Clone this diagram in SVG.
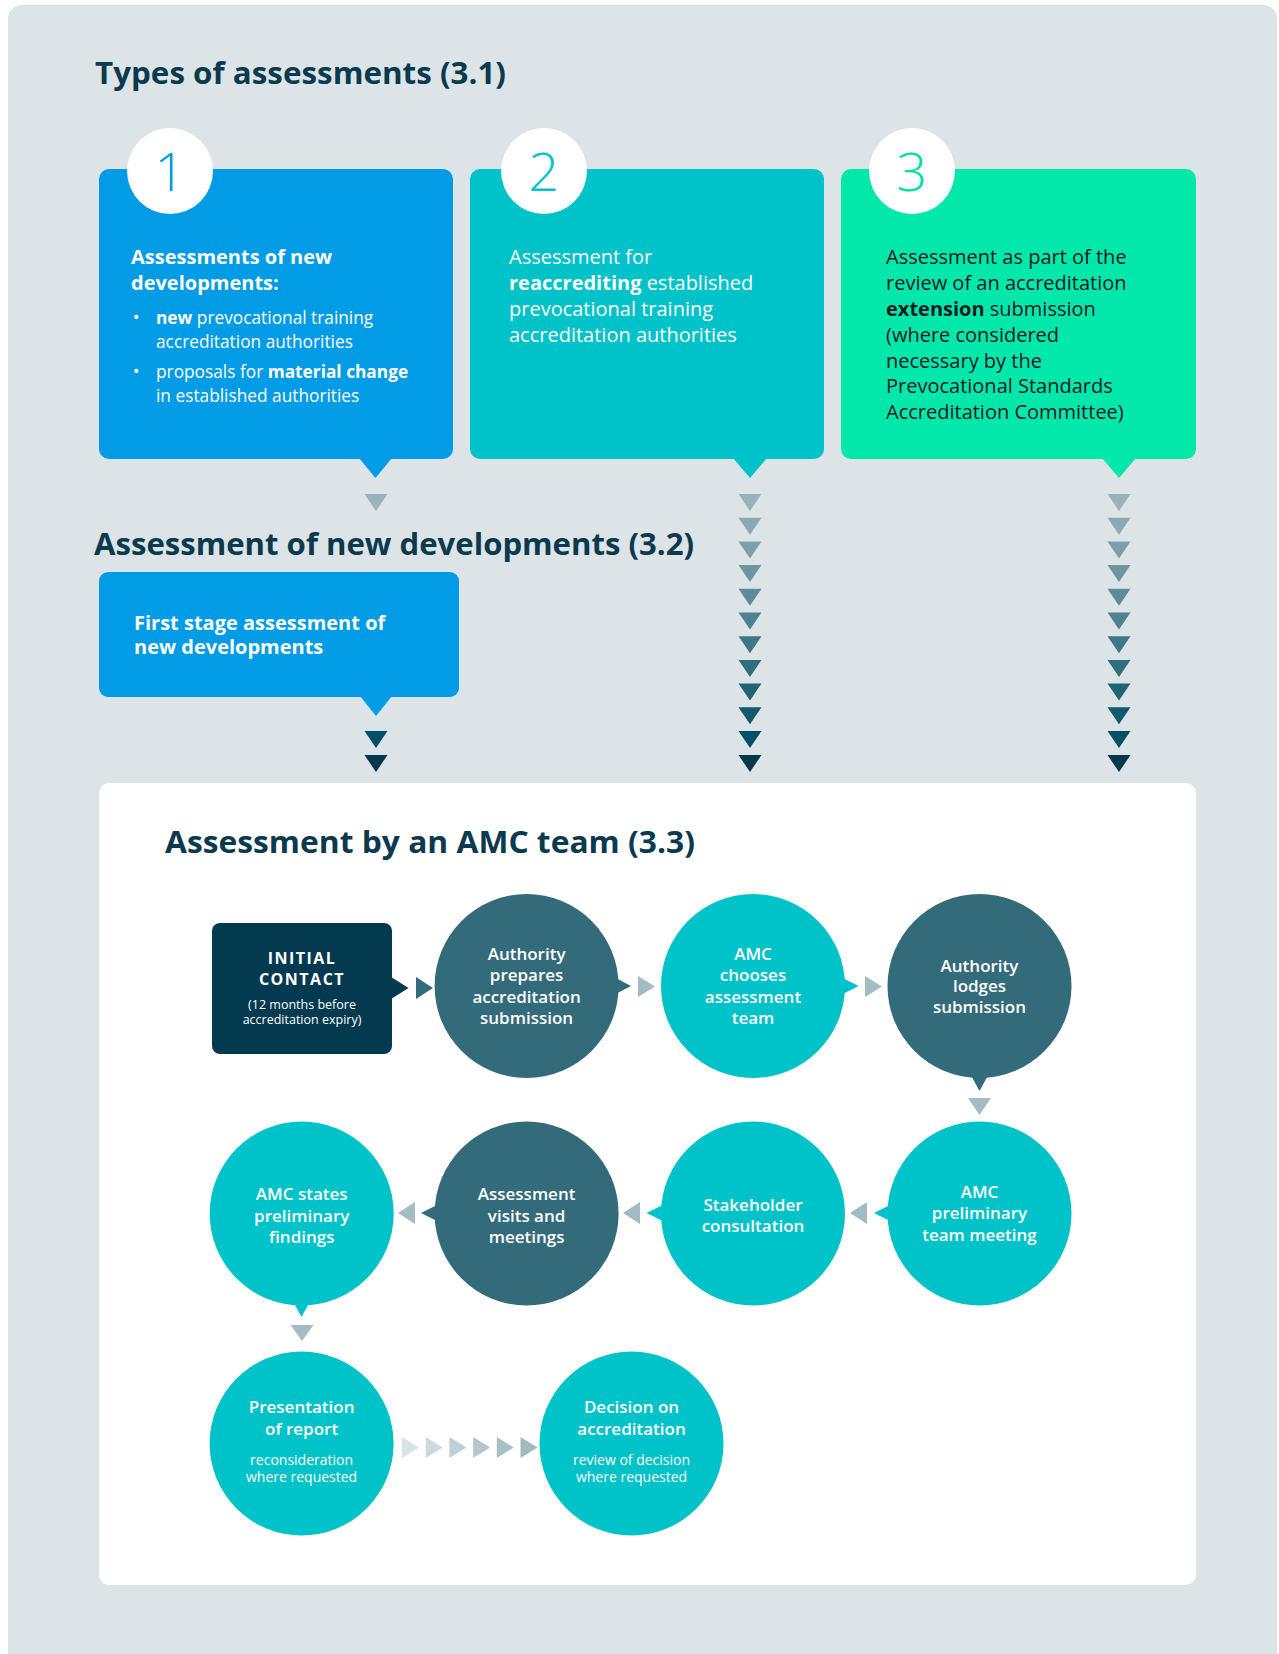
<svg xmlns="http://www.w3.org/2000/svg" width="1279" height="1654" viewBox="0 0 1279 1654">
<style>
.h{font-family:"Open Sans","Liberation Sans",sans-serif;font-weight:700;font-size:30px;fill:#0B3A4E}
.num{font-family:"Open Sans","Liberation Sans",sans-serif;font-weight:300;font-size:54px;text-anchor:middle}
.bt{font-family:"Open Sans","Liberation Sans",sans-serif;font-weight:400;font-size:20px}
.bb{font-weight:700}
.sm{font-family:"Open Sans","Liberation Sans",sans-serif;font-weight:400;font-size:17.3px;fill:#fff}
.ct{font-family:"Open Sans","Liberation Sans",sans-serif;font-weight:600;font-size:17px;fill:#fff;text-anchor:middle}
.cs{font-family:"Open Sans","Liberation Sans",sans-serif;font-weight:400;font-size:14px;fill:#fff;text-anchor:middle}
.dark{fill:#336B7B}
.cyan{fill:#00C2C9}
.lt{fill:#A3BBC2}
</style>
<rect x="0" y="0" width="1279" height="1654" fill="#fff"/>
<rect x="8" y="5" width="1269" height="1665" rx="14" fill="#DCE4E7"/>

<text class="h" x="95" y="84" textLength="411" lengthAdjust="spacingAndGlyphs">Types of assessments (3.1)</text>

<g id="box1">
<rect x="99" y="169" width="354" height="290" rx="10" fill="#029BE5"/>
<polygon points="359,458 392,458 375.5,478" fill="#029BE5"/>
<circle cx="170" cy="171" r="43" fill="#fff"/>
<text class="num" x="170" y="191" fill="#029BE5">1</text>
<text class="bt bb" x="131" y="264" fill="#fff">Assessments of new</text>
<text class="bt bb" x="131" y="290" fill="#fff">developments:</text>
<text class="sm" x="133" y="324">•</text>
<text class="sm" x="156" y="324"><tspan class="bb">new</tspan> prevocational training</text>
<text class="sm" x="156" y="348">accreditation authorities</text>
<text class="sm" x="133" y="378">•</text>
<text class="sm" x="156" y="378">proposals for <tspan class="bb">material change</tspan></text>
<text class="sm" x="156" y="402">in established authorities</text>
</g>

<g id="box2">
<rect x="470" y="169" width="354" height="290" rx="10" fill="#00C2C9"/>
<polygon points="733,458 767,458 750,478" fill="#00C2C9"/>
<circle cx="544" cy="171" r="43" fill="#fff"/>
<text class="num" x="544" y="191" fill="#00C2C9">2</text>
<text class="bt" x="509" y="264" fill="#fff">Assessment for</text>
<text class="bt" x="509" y="290" fill="#fff"><tspan class="bb">reaccrediting</tspan> established</text>
<text class="bt" x="509" y="316" fill="#fff">prevocational training</text>
<text class="bt" x="509" y="342" fill="#fff">accreditation authorities</text>
</g>

<g id="box3">
<rect x="841" y="169" width="355" height="290" rx="10" fill="#02E8AB"/>
<polygon points="1102,458 1136,458 1119,478" fill="#02E8AB"/>
<circle cx="912" cy="171" r="43" fill="#fff"/>
<text class="num" x="912" y="191" fill="#02DFA4">3</text>
<g fill="#0C1A20">
<text class="bt" x="886" y="264">Assessment as part of the</text>
<text class="bt" x="886" y="290">review of an accreditation</text>
<text class="bt" x="886" y="316"><tspan class="bb">extension</tspan> submission</text>
<text class="bt" x="886" y="342">(where considered</text>
<text class="bt" x="886" y="368">necessary by the</text>
<text class="bt" x="886" y="393">Prevocational Standards</text>
<text class="bt" x="886" y="419">Accreditation Committee)</text>
</g>
</g>

<text class="h" x="94" y="555" textLength="600" lengthAdjust="spacingAndGlyphs">Assessment of new developments (3.2)</text>

<g id="box-first-stage">
<rect x="99" y="572" width="360" height="125" rx="9" fill="#029BE5"/>
<polygon points="360,696 392,696 376,716" fill="#029BE5"/>
<text class="bt bb" x="134" y="630" fill="#fff">First stage assessment of</text>
<text class="bt bb" x="134" y="654" fill="#fff">new developments</text>
</g>

<g id="panel">
<rect x="99" y="783" width="1097" height="802" rx="10" fill="#fff"/>
<text class="h" x="165" y="853" textLength="530" lengthAdjust="spacingAndGlyphs">Assessment by an AMC team (3.3)</text>
</g>

<g id="connectors">
<polygon points="364.5,494 387.5,494 376,511" fill="#9AB3BB"/>
<polygon points="364.5,731 387.5,731 376,748" fill="#034F63"/>
<polygon points="364.5,755 387.5,755 376,772" fill="#04384C"/>
<g transform="translate(750,0)">
<polygon points="-11.5,494 11.5,494 0,511" fill="#9AB3BB"/>
<polygon points="-11.5,517.7 11.5,517.7 0,534.7" fill="#8BA9B2"/>
<polygon points="-11.5,541.4 11.5,541.4 0,558.4" fill="#7C9FA9"/>
<polygon points="-11.5,565.1 11.5,565.1 0,582.1" fill="#6D95A1"/>
<polygon points="-11.5,588.8 11.5,588.8 0,605.8" fill="#5E8B98"/>
<polygon points="-11.5,612.5 11.5,612.5 0,629.5" fill="#4E818F"/>
<polygon points="-11.5,636.2 11.5,636.2 0,653.2" fill="#3F7786"/>
<polygon points="-11.5,659.9 11.5,659.9 0,676.9" fill="#306D7D"/>
<polygon points="-11.5,683.6 11.5,683.6 0,700.6" fill="#216375"/>
<polygon points="-11.5,707.3 11.5,707.3 0,724.3" fill="#12596C"/>
<polygon points="-11.5,731 11.5,731 0,748" fill="#034F63"/>
<polygon points="-11.5,755 11.5,755 0,772" fill="#04384C"/>
</g>
<g transform="translate(1119,0)">
<polygon points="-11.5,494 11.5,494 0,511" fill="#9AB3BB"/>
<polygon points="-11.5,517.7 11.5,517.7 0,534.7" fill="#8BA9B2"/>
<polygon points="-11.5,541.4 11.5,541.4 0,558.4" fill="#7C9FA9"/>
<polygon points="-11.5,565.1 11.5,565.1 0,582.1" fill="#6D95A1"/>
<polygon points="-11.5,588.8 11.5,588.8 0,605.8" fill="#5E8B98"/>
<polygon points="-11.5,612.5 11.5,612.5 0,629.5" fill="#4E818F"/>
<polygon points="-11.5,636.2 11.5,636.2 0,653.2" fill="#3F7786"/>
<polygon points="-11.5,659.9 11.5,659.9 0,676.9" fill="#306D7D"/>
<polygon points="-11.5,683.6 11.5,683.6 0,700.6" fill="#216375"/>
<polygon points="-11.5,707.3 11.5,707.3 0,724.3" fill="#12596C"/>
<polygon points="-11.5,731 11.5,731 0,748" fill="#034F63"/>
<polygon points="-11.5,755 11.5,755 0,772" fill="#04384C"/>
</g>
<polygon points="416,977 433,988 416,999" class="dark"/>
<polygon points="638,976 655,986.5 638,997" class="lt"/>
<polygon points="865,976 882,986.5 865,997" class="lt"/>
<polygon points="968,1098 991,1098 979.5,1115" class="lt"/>
<polygon points="867,1202 850,1213 867,1224" class="lt"/>
<polygon points="640,1202 623,1213 640,1224" class="lt"/>
<polygon points="415,1202 398,1213 415,1224" class="lt"/>
<polygon points="290.5,1325 313.5,1325 302,1341" class="lt"/>
<polygon points="402,1437 419,1447.5 402,1458" fill="#D9E3E6"/>
<polygon points="425.7,1437 442.7,1447.5 425.7,1458" fill="#CCD9DD"/>
<polygon points="449.4,1437 466.4,1447.5 449.4,1458" fill="#BFCFD4"/>
<polygon points="473.1,1437 490.1,1447.5 473.1,1458" fill="#B4C6CC"/>
<polygon points="496.8,1437 513.8,1447.5 496.8,1458" fill="#AABFC6"/>
<polygon points="520.5,1437 537.5,1447.5 520.5,1458" fill="#A2B9C0"/>
</g>

<g id="initial-contact">
<rect x="212" y="923" width="180" height="131" rx="8" fill="#043A4F"/>
<polygon points="391,977 408.6,988 391,999" fill="#043A4F"/>
<text x="302" y="964" text-anchor="middle" font-family="'Open Sans','Liberation Sans',sans-serif" font-weight="700" font-size="16" letter-spacing="1.5" fill="#fff">INITIAL</text>
<text x="302" y="985" text-anchor="middle" font-family="'Open Sans','Liberation Sans',sans-serif" font-weight="700" font-size="16" letter-spacing="1.5" fill="#fff">CONTACT</text>
<text x="302" y="1009" text-anchor="middle" font-family="'Open Sans','Liberation Sans',sans-serif" font-weight="400" font-size="12.5" fill="#fff">(12 months before</text>
<text x="302" y="1024" text-anchor="middle" font-family="'Open Sans','Liberation Sans',sans-serif" font-weight="400" font-size="12.5" fill="#fff">accreditation expiry)</text>
</g>

<g id="authority-prepares">
<circle cx="526.6" cy="986" r="92" class="dark"/>
<polygon points="608,974 631,986 608,998" class="dark"/>
<text class="ct" x="526.6" y="960">Authority</text>
<text class="ct" x="526.6" y="981">prepares</text>
<text class="ct" x="526.6" y="1002.5">accreditation</text>
<text class="ct" x="526.6" y="1024">submission</text>
</g>

<g id="amc-chooses">
<circle cx="753" cy="986" r="92" class="cyan"/>
<polygon points="835,974 858.6,986 835,998" class="cyan"/>
<text class="ct" x="753" y="960">AMC</text>
<text class="ct" x="753" y="981">chooses</text>
<text class="ct" x="753" y="1002.5">assessment</text>
<text class="ct" x="753" y="1024">team</text>
</g>

<g id="authority-lodges">
<circle cx="979.5" cy="986" r="92" class="dark"/>
<polygon points="967,1068 992,1068 979.5,1091" class="dark"/>
<text class="ct" x="979.5" y="971.5">Authority</text>
<text class="ct" x="979.5" y="992">lodges</text>
<text class="ct" x="979.5" y="1013">submission</text>
</g>

<g id="amc-preliminary">
<circle cx="979.5" cy="1213.5" r="92" class="cyan"/>
<polygon points="898,1201 874,1213 898,1225" class="cyan"/>
<text class="ct" x="979.5" y="1198">AMC</text>
<text class="ct" x="979.5" y="1219">preliminary</text>
<text class="ct" x="979.5" y="1240.5">team meeting</text>
</g>

<g id="stakeholder">
<circle cx="753" cy="1213.5" r="92" class="cyan"/>
<polygon points="671,1201 646.5,1213 671,1225" class="cyan"/>
<text class="ct" x="753" y="1211">Stakeholder</text>
<text class="ct" x="753" y="1232">consultation</text>
</g>

<g id="assessment-visits">
<circle cx="526.6" cy="1213.5" r="92" class="dark"/>
<polygon points="445,1201 421,1213 445,1225" class="dark"/>
<text class="ct" x="526.6" y="1200">Assessment</text>
<text class="ct" x="526.6" y="1221.5">visits and</text>
<text class="ct" x="526.6" y="1242.5">meetings</text>
</g>

<g id="amc-states">
<circle cx="301.7" cy="1213.5" r="92" class="cyan"/>
<polygon points="289.5,1295 313.5,1295 301.5,1317" class="cyan"/>
<text class="ct" x="301.7" y="1200">AMC states</text>
<text class="ct" x="301.7" y="1221.5">preliminary</text>
<text class="ct" x="301.7" y="1242.5">findings</text>
</g>

<g id="presentation">
<circle cx="301.6" cy="1443.5" r="92" class="cyan"/>
<text class="ct" x="301.6" y="1413">Presentation</text>
<text class="ct" x="301.6" y="1435">of report</text>
<text class="cs" x="301.6" y="1465">reconsideration</text>
<text class="cs" x="301.6" y="1482">where requested</text>
</g>

<g id="decision">
<circle cx="631.5" cy="1443.5" r="92" class="cyan"/>
<text class="ct" x="631.5" y="1413">Decision on</text>
<text class="ct" x="631.5" y="1435">accreditation</text>
<text class="cs" x="631.5" y="1465">review of decision</text>
<text class="cs" x="631.5" y="1482">where requested</text>
</g>
</svg>
